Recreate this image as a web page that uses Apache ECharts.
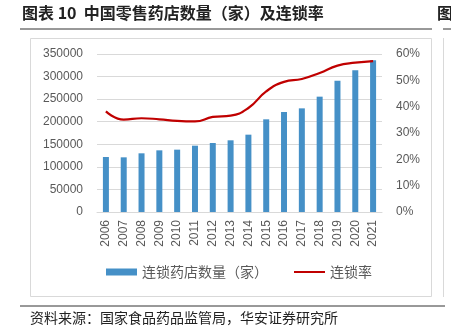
<!DOCTYPE html>
<html>
<head>
<meta charset="utf-8">
<style>
  html, body { margin: 0; padding: 0; background: #fff; }
  #chart { width: 451px; height: 332px; }
</style>
<script src="https://cdn.jsdelivr.net/npm/echarts@6/dist/echarts.min.js"></script>
</head>
<body>
<div id="chart"></div>
<script>
// Retail pharmacy chain stores and chain rate, 2006-2021
const years = ['2006','2007','2008','2009','2010','2011','2012','2013','2014','2015','2016','2017','2018','2019','2020','2021'];
const chainStores = [121800, 121100, 130000, 136600, 138100, 146900, 152800, 158800, 171300, 205300, 221500, 229600, 255500, 290900, 313800, 336000];
const chainRate = [38.2, 35.1, 35.6, 35.2, 34.6, 34.4, 36.1, 36.6, 39.5, 45.8, 49.4, 50.5, 52.8, 55.6, 56.7, 57.3];
const leftTicks = [0, 350000, 50000];
const rightTicks = [0, 60, 10];

const cjk = '"Noto Sans CJK SC", "Noto Sans", sans-serif';
const latin = '"Liberation Sans", Arial, sans-serif';
const chart = echarts.init(document.getElementById('chart'));

chart.setOption({
  animation: false,
  backgroundColor: '#fff',
  textStyle: { fontFamily: cjk },
  grid: { left: 97, right: 69, top: 54, bottom: 120 },
  legend: {
    bottom: 48,
    left: 101,
    itemGap: 26,
    itemWidth: 31,
    itemHeight: 7,
    textStyle: { fontSize: 14, color: '#595959', fontFamily: cjk },
    data: [
      { name: '连锁药店数量（家）', icon: 'rect' },
      { name: '连锁率', icon: 'path://M0,0 L31,0 L31,2 L0,2 Z' }
    ]
  },
  xAxis: {
    type: 'category',
    data: years,
    axisLine: { lineStyle: { color: '#d9d9d9' } },
    axisTick: { show: false },
    axisLabel: { rotate: 90, color: '#595959', fontSize: 12, margin: 8, fontFamily: latin }
  },
  yAxis: [
    {
      type: 'value',
      min: leftTicks[0], max: leftTicks[1], interval: leftTicks[2],
      axisLine: { show: false },
      axisTick: { show: false },
      splitLine: { lineStyle: { color: '#d9d9d9' } },
      axisLabel: { color: '#595959', fontSize: 12, margin: 14, fontFamily: latin, formatter: v => String(v) }
    },
    {
      type: 'value',
      min: rightTicks[0], max: rightTicks[1], interval: rightTicks[2],
      axisLine: { show: false },
      axisTick: { show: false },
      splitLine: { show: false },
      axisLabel: { color: '#595959', fontSize: 12, margin: 14, formatter: '{value}%', fontFamily: latin }
    }
  ],
  series: [
    {
      name: '连锁药店数量（家）',
      type: 'bar',
      data: chainStores,
      barWidth: 6,
      itemStyle: { color: '#4590C7' }
    },
    {
      name: '连锁率',
      type: 'line',
      yAxisIndex: 1,
      data: chainRate,
      smooth: true,
      symbol: 'none',
      lineStyle: { color: '#C00000', width: 2.2 },
      itemStyle: { color: '#C00000' }
    }
  ],
  graphic: [
    {
      type: 'text', left: 22, top: 5,
      style: { text: '图表 10  中国零售药店数量（家）及连锁率', font: 'bold 16px ' + cjk, fill: '#222' }
    },
    {
      type: 'text', left: 437, top: 5,
      style: { text: '图', font: 'bold 16px ' + cjk, fill: '#222' }
    },
    { type: 'line', shape: { x1: 20, y1: 29, x2: 432, y2: 29 }, style: { stroke: '#333', lineWidth: 1 } },
    { type: 'line', shape: { x1: 443, y1: 29, x2: 451, y2: 29 }, style: { stroke: '#333', lineWidth: 1 } },
    { type: 'rect', shape: { x: 30.5, y: 38.5, width: 401, height: 258 }, style: { fill: 'none', stroke: '#d9d9d9', lineWidth: 1 } },
    { type: 'line', shape: { x1: 443.5, y1: 38, x2: 443.5, y2: 297 }, style: { stroke: '#d9d9d9', lineWidth: 1 } },
    { type: 'line', shape: { x1: 20, y1: 306, x2: 445, y2: 306 }, style: { stroke: '#333', lineWidth: 1 } },
    {
      type: 'text', left: 30, top: 311,
      style: { text: '资料来源：国家食品药品监管局，华安证券研究所', font: '14px ' + cjk, fill: '#222' }
    }
  ]
});
</script>
</body>
</html>
